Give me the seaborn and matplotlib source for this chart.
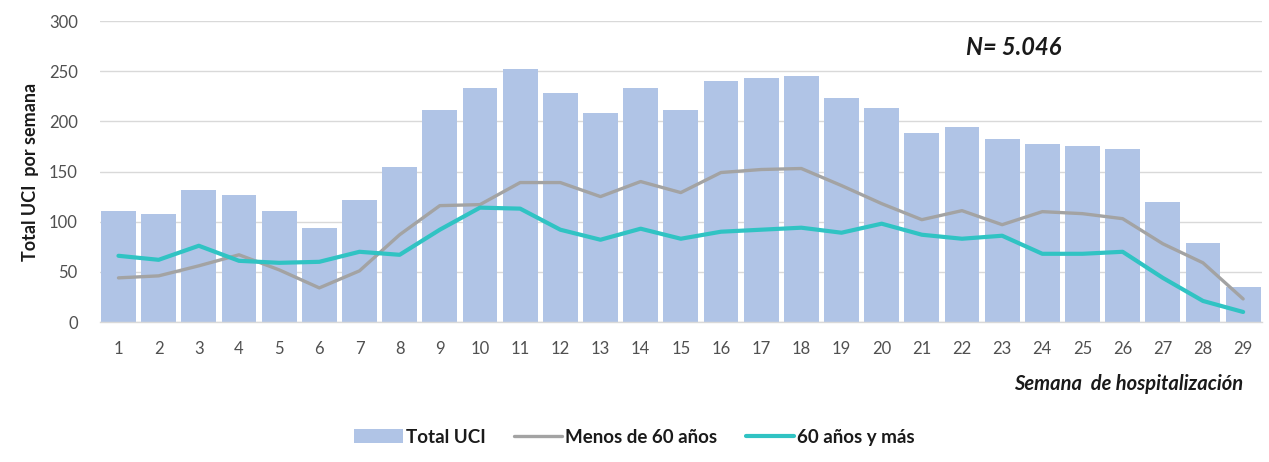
import numpy as np
import pandas as pd
import matplotlib
matplotlib.use("Agg")
import matplotlib.pyplot as plt
import seaborn as sns
from matplotlib.patches import Patch
from matplotlib.lines import Line2D

# Weekly ICU admissions
weeks = list(range(1, 30))
total_uci = [111, 108, 132, 127, 111, 94, 122, 155, 211, 233, 252, 228, 208, 233,
             211, 240, 243, 245, 223, 213, 188, 194, 182, 177, 175, 172, 120, 79, 35]
menos_60 = [44, 46, 56, 67, 52, 34, 51, 87, 116, 117, 139, 139, 125, 140,
            129, 149, 152, 153, 136, 118, 102, 111, 97, 110, 108, 103, 78, 59, 23]
mas_60 = [66, 62, 76, 61, 59, 60, 70, 67, 92, 114, 113, 92, 82, 93,
          83, 90, 92, 94, 89, 98, 87, 83, 86, 68, 68, 70, 44, 21, 10]
y_ticks = [0, 50, 100, 150, 200, 250, 300]

label_total = "Total UCI"
label_menos = "Menos de 60 años"
label_mas = "60 años y más"

bar_color = "#B0C4E6"
grey_color = "#A3A3A3"
teal_color = "#30C3C3"
text_dark = "#1a1a1a"
tick_color = "#505050"

df = pd.DataFrame({"semana": weeks, "total": total_uci,
                   "menos": menos_60, "mas": mas_60})

sns.set_theme(style="white")
plt.rcParams["font.family"] = ["Lato", "DejaVu Sans"]

fig = plt.figure(figsize=(12.69, 4.62), dpi=100)
ax = fig.add_axes([0.0788, 0.303, 0.9157, 0.6515])

sns.barplot(data=df, x="semana", y="total", native_scale=True, color=bar_color,
            saturation=1, width=0.87, ax=ax, zorder=2, edgecolor="none")
sns.lineplot(data=df, x="semana", y="menos", color=grey_color, linewidth=2.4,
             ax=ax, zorder=3, solid_joinstyle="round", solid_capstyle="round")
sns.lineplot(data=df, x="semana", y="mas", color=teal_color, linewidth=3.0,
             ax=ax, zorder=4, solid_joinstyle="round", solid_capstyle="round")

ax.set_xlim(0.54, 29.47)
ax.set_ylim(0, 300)
ax.set_yticks(y_ticks)
ax.set_xticks(weeks)
ax.set_xticklabels([str(w) for w in weeks])
ax.yaxis.grid(True, color="#D9D9D9", linewidth=1.0, zorder=0)
ax.set_axisbelow(True)
for side in ["left", "right", "top"]:
    ax.spines[side].set_visible(False)
ax.spines["bottom"].set_color("#D9D9D9")
ax.spines["bottom"].set_linewidth(1.0)
ax.tick_params(axis="both", length=0, labelsize=12, colors=tick_color)
ax.tick_params(axis="y", pad=16)
ax.tick_params(axis="x", pad=14)

ax.set_xlabel("")
ax.set_ylabel("Total UCI  por semana", fontsize=13, fontweight="bold",
              color=text_dark, labelpad=7)
ax.text(0.984, -0.205, "Semana  de hospitalización", transform=ax.transAxes,
        ha="right", va="center", fontsize=14.5, fontweight="bold",
        fontstyle="italic", color=text_dark)
ax.text(0.745, 0.912, "N= 5.046", transform=ax.transAxes, ha="left", va="center",
        fontsize=17, fontweight="bold", fontstyle="italic", color=text_dark)

handles = [Patch(facecolor=bar_color, edgecolor="none"),
           Line2D([0], [0], color=grey_color, linewidth=2.4),
           Line2D([0], [0], color=teal_color, linewidth=3.0)]
leg = fig.legend(handles, [label_total, label_menos, label_mas],
                 loc="center", bbox_to_anchor=(0.5, 0.054), ncol=3, frameon=False,
                 handlelength=2.6, handletextpad=0.15, columnspacing=1.5,
                 prop={"size": 13.5, "weight": "bold"})
for t in leg.get_texts():
    t.set_color(text_dark)

fig.savefig("out.png", dpi=100)
